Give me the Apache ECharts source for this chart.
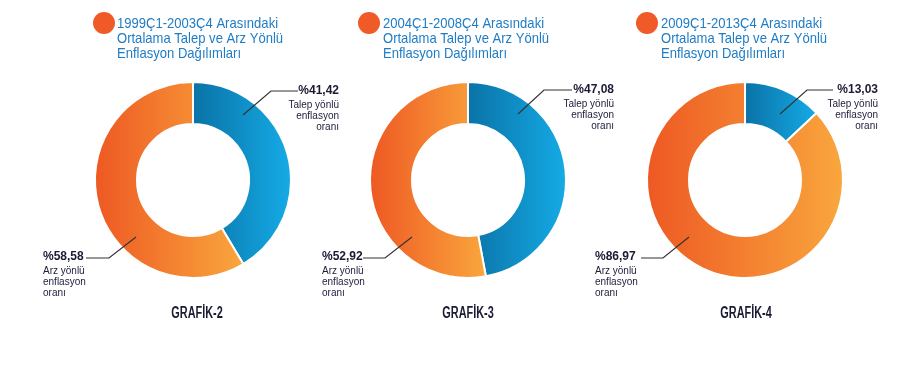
<!DOCTYPE html>
<html>
<head>
<meta charset="utf-8">
<script src="https://cdn.jsdelivr.net/npm/echarts@6/dist/echarts.min.js"></script>
<style>
html,body{margin:0;padding:0;background:#fff;}
#c{width:900px;height:366px;}
</style>
</head>
<body>
<div id="c"></div>
<script>
const categories = ['Talep yönlü\nenflasyon\noranı', 'Arz yönlü\nenflasyon\noranı'];
const periods = ['1999Ç1-2003Ç4', '2004Ç1-2008Ç4', '2009Ç1-2013Ç4'];
const talepValues = [41.42, 47.08, 13.03];
const arzValues = [58.58, 52.92, 86.97];
const chartNames = ['GRAFİK-2', 'GRAFİK-3', 'GRAFİK-4'];

const FONT = '"Liberation Sans", Arial, sans-serif';
const centersX = [193, 468, 745];
const CY = 180;
// per-chart label geometry offsets from center x
const blueGeo = [
  {s:[50,115], e:[78,91], t:[105,91], tx:146},
  {s:[50,114], e:[76,90], t:[104,90], tx:146},
  {s:[35,114], e:[62,90], t:[88,90], tx:133}
];
const orangeGeo = [
  {s:[-57,237], e:[-84,258], t:[-107,258], tx:-150},
  {s:[-56,237], e:[-83,258], t:[-105,258], tx:-146},
  {s:[-56,237], e:[-82,258], t:[-104,258], tx:-150}
];

function fmt(v){ return '%' + v.toFixed(2).replace('.', ','); }

const blueGrad = {type:'linear',x:0,y:0,x2:1,y2:0,colorStops:[{offset:0,color:'#0a72a6'},{offset:1,color:'#15abe6'}]};
const orangeGrad = {type:'linear',x:0,y:0,x2:1,y2:0,colorStops:[{offset:0,color:'#ee5823'},{offset:1,color:'#f9a73d'}]};

const series = [];
periods.forEach((p, i) => {
  const cx = centersX[i];
  // ring sectors
  series.push({
    type: 'pie',
    z: 2,
    center: [cx, CY],
    radius: [56, 98],
    startAngle: 90,
    clockwise: true,
    silent: true,
    itemStyle: {borderColor:'#fff', borderWidth:2},
    label: {show:false},
    labelLine: {show:false},
    data: [
      {name: categories[0], value: talepValues[i], itemStyle:{color: blueGrad}},
      {name: categories[1], value: arzValues[i], itemStyle:{color: orangeGrad}}
    ]
  });
  // transparent overlay carrying labels and leader lines above the ring
  series.push({
    type: 'pie',
    z: 5,
    center: [cx, CY],
    radius: [56, 98],
    startAngle: 90,
    clockwise: true,
    silent: true,
    avoidLabelOverlap: false,
    itemStyle: {color:'rgba(0,0,0,0)', borderWidth:0},
    label: {
      show: true,
      position: 'outside',
      fontFamily: FONT,
      color: '#1c1c3a',
      formatter: function(prm){
        const lines = categories[prm.dataIndex].split('\n').map(l => '{t|' + l + '}').join('\n');
        return '{v|' + fmt(prm.value) + '}\n' + lines;
      },
      rich: {
        v: {fontFamily: FONT, fontWeight:'bold', fontSize:12, lineHeight:18, color:'#1a1a33'},
        t: {fontFamily: FONT, fontSize:10, lineHeight:11, color:'#1c1c3a'}
      }
    },
    labelLine: {show:true, showAbove:true, lineStyle:{color:'#333', width:1.2}},
    labelLayout: function(prm){
      const g = prm.dataIndex === 0 ? blueGeo[i] : orangeGeo[i];
      const pts = [[cx+g.s[0], g.s[1]], [cx+g.e[0], g.e[1]], [cx+g.t[0], g.t[1]]];
      if (prm.dataIndex === 0) {
        return {x: cx+g.tx, y: g.t[1]-9, align:'right', verticalAlign:'top', labelLinePoints: pts};
      }
      return {x: cx+g.tx, y: g.t[1]-10, align:'left', verticalAlign:'top', labelLinePoints: pts};
    },
    data: [
      {name: categories[0], value: talepValues[i]},
      {name: categories[1], value: arzValues[i]}
    ]
  });
});

const titleX = [117, 383, 661];
const circleX = [104, 369, 647];
const nameX = [197, 468, 746];
const graphics = [];
circleX.forEach(x => graphics.push({type:'circle', shape:{cx:x, cy:23, r:11}, style:{fill:'#f05a28'}}));
periods.forEach((p, i) => graphics.push({
  type:'text', x: titleX[i], y: 16.5, scaleX: 0.87,
  style: {
    text: p + ' Arasındaki\nOrtalama Talep ve Arz Yönlü\nEnflasyon Dağılımları',
    font: '15px ' + FONT, lineHeight: 15, fill: '#1f7cc4',
    align: 'left', verticalAlign: 'top'
  }
}));
chartNames.forEach((n, i) => graphics.push({
  type:'text', x: nameX[i], y: 314, scaleX: 0.68,
  style: {
    text: n, font: 'bold 16px ' + FONT, fill: '#1a1a33',
    align: 'center', verticalAlign: 'middle'
  }
}));

const chart = echarts.init(document.getElementById('c'), null, {renderer:'canvas'});
chart.setOption({
  backgroundColor: '#fff',
  animation: false,
  graphic: graphics,
  series: series
});
</script>
</body>
</html>
